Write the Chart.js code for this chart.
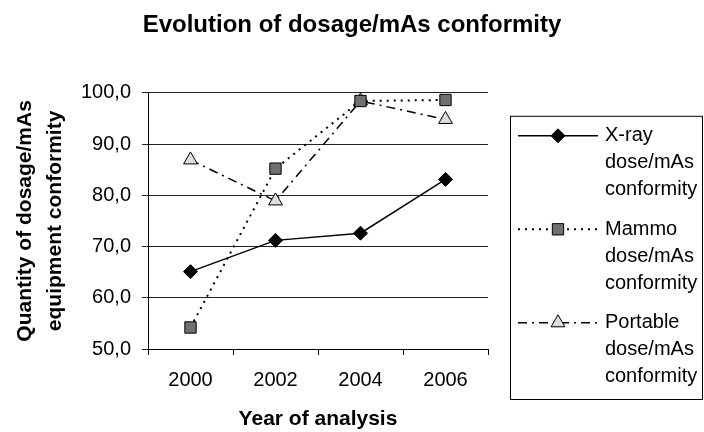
<!DOCTYPE html>
<html lang="en">
<head>
    <meta charset="UTF-8">
    <title>Evolution of dosage/mAs conformity</title>
    <script src="https://cdn.jsdelivr.net/npm/chart.js@4.4.1/dist/chart.umd.min.js"></script>
    <style>
        html, body { margin: 0; padding: 0; background: #fff; }
        #conformity-chart { display: block; }
    </style>
</head>
<body>
    <canvas id="conformity-chart" width="704" height="432"></canvas>

    <script>
        // values
        const years = ['2000', '2002', '2004', '2006'];
        const xray = [65.1, 71.2, 72.6, 83.1];
        const mammo = [54.2, 85.2, 98.4, 98.6];
        const portable = [86.9, 78.9, 98.4, 94.8];
        const seriesNames = [
            ['X-ray', 'dose/mAs', 'conformity'],
            ['Mammo', 'dose/mAs', 'conformity'],
            ['Portable', 'dose/mAs', 'conformity']
        ];
        const yTitle = ['Quantity of dosage/mAs', 'equipment conformity'];
        const xTitle = 'Year of analysis';
        const chartTitle = 'Evolution of dosage/mAs conformity';

        Chart.defaults.font.family = "Arial, 'Liberation Sans', sans-serif";
        Chart.defaults.color = '#000';

        function drawMarker(ctx, style, radius, x, y) {
            if (Chart.helpers && Chart.helpers.drawPoint) {
                Chart.helpers.drawPoint(ctx, { pointStyle: style, radius: radius, rotation: 0, borderWidth: 1 }, x, y);
                return;
            }
            ctx.beginPath();
            ctx.arc(x, y, radius, 0, Math.PI * 2);
            ctx.fill();
            ctx.stroke();
        }

        // box legend on the right, with three-line labels
        const boxLegend = {
            id: 'boxLegend',
            afterDraw(chart) {
                const ctx = chart.ctx;
                const area = chart.chartArea;
                const left = area.right + 22;
                const top = area.top + 23;
                const right = chart.width - 2;
                const bottom = area.bottom + 50;

                ctx.save();
                ctx.strokeStyle = '#000';
                ctx.lineWidth = 1;
                ctx.strokeRect(left + 0.5, top + 0.5, right - left, bottom - top);

                ctx.font = "20px Arial, 'Liberation Sans', sans-serif";
                ctx.textBaseline = 'middle';
                ctx.textAlign = 'left';

                chart.data.datasets.forEach((ds, i) => {
                    const y = top + 20 + i * 93.5;
                    ctx.strokeStyle = ds.borderColor;
                    ctx.lineWidth = ds.borderWidth;
                    ctx.setLineDash(ds.borderDash || []);
                    ctx.beginPath();
                    ctx.moveTo(left + 8, y);
                    ctx.lineTo(left + 88, y);
                    ctx.stroke();
                    ctx.setLineDash([]);

                    ctx.fillStyle = ds.pointBackgroundColor;
                    ctx.strokeStyle = '#000';
                    ctx.lineWidth = 1;
                    drawMarker(ctx, ds.pointStyle, ds.pointRadius, left + 48, y);

                    ctx.fillStyle = '#000';
                    seriesNames[i].forEach((line, k) => {
                        ctx.fillText(line, left + 95, y + k * 27);
                    });
                });
                ctx.restore();
            }
        };

        const ctx = document.getElementById('conformity-chart').getContext('2d');

        new Chart(ctx, {
            type: 'line',
            data: {
                labels: years,
                datasets: [
                    {
                        label: seriesNames[0].join(' '),
                        data: xray,
                        borderColor: '#000',
                        borderWidth: 1.5,
                        pointStyle: 'rectRot',
                        pointRadius: 7,
                        pointBackgroundColor: '#000',
                        pointBorderColor: '#000',
                        pointBorderWidth: 1,
                        tension: 0
                    },
                    {
                        label: seriesNames[1].join(' '),
                        data: mammo,
                        borderColor: '#000',
                        borderWidth: 2,
                        borderDash: [2, 5],
                        pointStyle: 'rect',
                        pointRadius: 8,
                        pointBackgroundColor: '#707070',
                        pointBorderColor: '#000',
                        pointBorderWidth: 1,
                        tension: 0
                    },
                    {
                        label: seriesNames[2].join(' '),
                        data: portable,
                        borderColor: '#000',
                        borderWidth: 1.5,
                        borderDash: [9, 5, 2, 5],
                        pointStyle: 'triangle',
                        pointRadius: 8,
                        pointBackgroundColor: '#dddddd',
                        pointBorderColor: '#000',
                        pointBorderWidth: 1,
                        tension: 0
                    }
                ]
            },
            options: {
                responsive: false,
                animation: false,
                layout: {
                    padding: { top: 0, right: 0, bottom: 0, left: 0 }
                },
                plugins: {
                    legend: { display: false },
                    tooltip: { enabled: false },
                    title: {
                        display: true,
                        text: chartTitle,
                        color: '#000',
                        font: { size: 24, weight: 'bold' },
                        padding: { top: 11, bottom: 53 }
                    }
                },
                scales: {
                    x: {
                        offset: true,
                        grid: {
                            offset: true,
                            drawOnChartArea: false,
                            color: '#000',
                            tickLength: 6
                        },
                        border: { color: '#000', width: 1 },
                        ticks: {
                            color: '#000',
                            font: { size: 20 },
                            padding: 13,
                            maxRotation: 0
                        },
                        title: {
                            display: true,
                            text: xTitle,
                            color: '#000',
                            font: { size: 21, weight: 'bold' },
                            padding: { top: 0, bottom: 0 }
                        },
                        afterFit(scale) { scale.height = 83; }
                    },
                    y: {
                        min: 50,
                        max: 100,
                        ticks: {
                            stepSize: 10,
                            color: '#000',
                            font: { size: 20 },
                            padding: 11,
                            callback: v => v.toFixed(1).replace('.', ',')
                        },
                        grid: {
                            color: '#222',
                            tickLength: 6
                        },
                        border: { color: '#000', width: 1 },
                        title: {
                            display: true,
                            text: yTitle,
                            color: '#000',
                            font: { size: 21, weight: 'bold', lineHeight: 1.43 },
                            padding: { top: 10, bottom: 0 }
                        },
                        afterFit(scale) { scale.width = 148; }
                    },
                    // empty right-hand axis that keeps room for the box legend
                    legendSpace: {
                        type: 'linear',
                        position: 'right',
                        display: true,
                        ticks: { display: false },
                        grid: { display: false },
                        border: { display: false },
                        afterFit(scale) { scale.width = 216; }
                    }
                }
            },
            plugins: [boxLegend]
        });
    </script>
</body>
</html>
